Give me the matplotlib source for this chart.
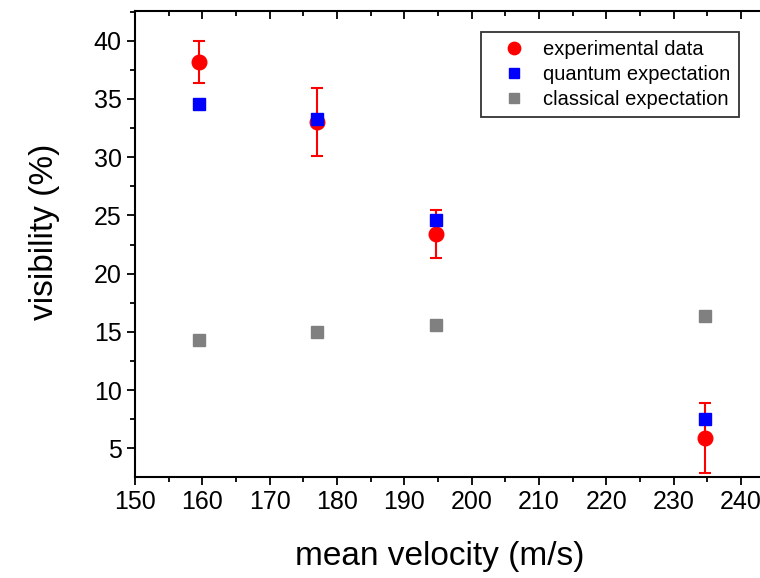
import matplotlib
matplotlib.use("Agg")
import matplotlib.pyplot as plt
from matplotlib.ticker import MultipleLocator

# data
velocity = [159.5, 177.0, 194.7, 234.7]
exp_visibility = [38.2, 33.0, 23.4, 5.9]
exp_error = [1.8, 2.9, 2.05, 3.0]
quantum_visibility = [34.6, 33.3, 24.6, 7.5]
classical_visibility = [14.3, 15.0, 15.6, 16.4]

plt.rcParams["font.family"] = ["Liberation Sans", "DejaVu Sans"]

fig = plt.figure(figsize=(7.6, 5.78), dpi=100)
# axes run off the right edge of the picture, as in the reference
ax = fig.add_axes([135 / 760, 101 / 578, 673.3 / 760, 466 / 578])

ax.errorbar(velocity, exp_visibility, yerr=exp_error, fmt="none",
            ecolor="#ff0000", elinewidth=1.5, capsize=4, capthick=1.5, zorder=2)
h_exp, = ax.plot(velocity, exp_visibility, "o", color="#ff0000", ms=10.5,
                 mec="#ff0000", label="experimental data", zorder=3)
h_q, = ax.plot(velocity, quantum_visibility, "s", color="#0000ff", ms=9,
               mec="#0000ff", label="quantum expectation", zorder=4)
h_c, = ax.plot(velocity, classical_visibility, "s", color="#808080", ms=9,
               mec="#808080", label="classical expectation", zorder=4)

ax.set_xlim(150, 250)
ax.set_ylim(2.55, 42.55)
ax.xaxis.set_major_locator(MultipleLocator(10))
ax.xaxis.set_minor_locator(MultipleLocator(5))
ax.yaxis.set_major_locator(MultipleLocator(5))
ax.yaxis.set_minor_locator(MultipleLocator(2.5))

for side in ax.spines.values():
    side.set_linewidth(1.5)
ax.spines["right"].set_visible(False)

ax.tick_params(axis="both", which="both", direction="out", width=1.3,
               labelsize=18, colors="black")
ax.tick_params(axis="both", which="major", length=6)
ax.tick_params(axis="both", which="minor", length=3.5)
ax.tick_params(axis="x", which="both", top=True)
ax.tick_params(axis="y", which="both", right=False)
# top ticks point into the plot
for t in ax.xaxis.get_major_ticks() + ax.xaxis.get_minor_ticks():
    t.tick2line.set_marker(3)

fig.text(440 / 760, 1 - 556 / 578, "mean velocity (m/s)", fontsize=24,
         ha="center", va="center")
fig.text(45 / 760, 1 - 232 / 578, "visibility (%)", fontsize=24,
         ha="center", va="center", rotation=90)

leg = ax.legend(handles=[h_exp, h_q, h_c], loc="upper left",
                bbox_to_anchor=(481 / 760, 1 - 32 / 578),
                bbox_transform=fig.transFigure, borderaxespad=0,
                fontsize=14.5, frameon=True, fancybox=False, handletextpad=0.2,
                handlelength=2.5, labelspacing=0.3, borderpad=0.4,
                markerscale=0.85)
leg.get_frame().set_edgecolor("black")
leg.get_frame().set_linewidth(1.3)

fig.savefig("out.png", dpi=100)
